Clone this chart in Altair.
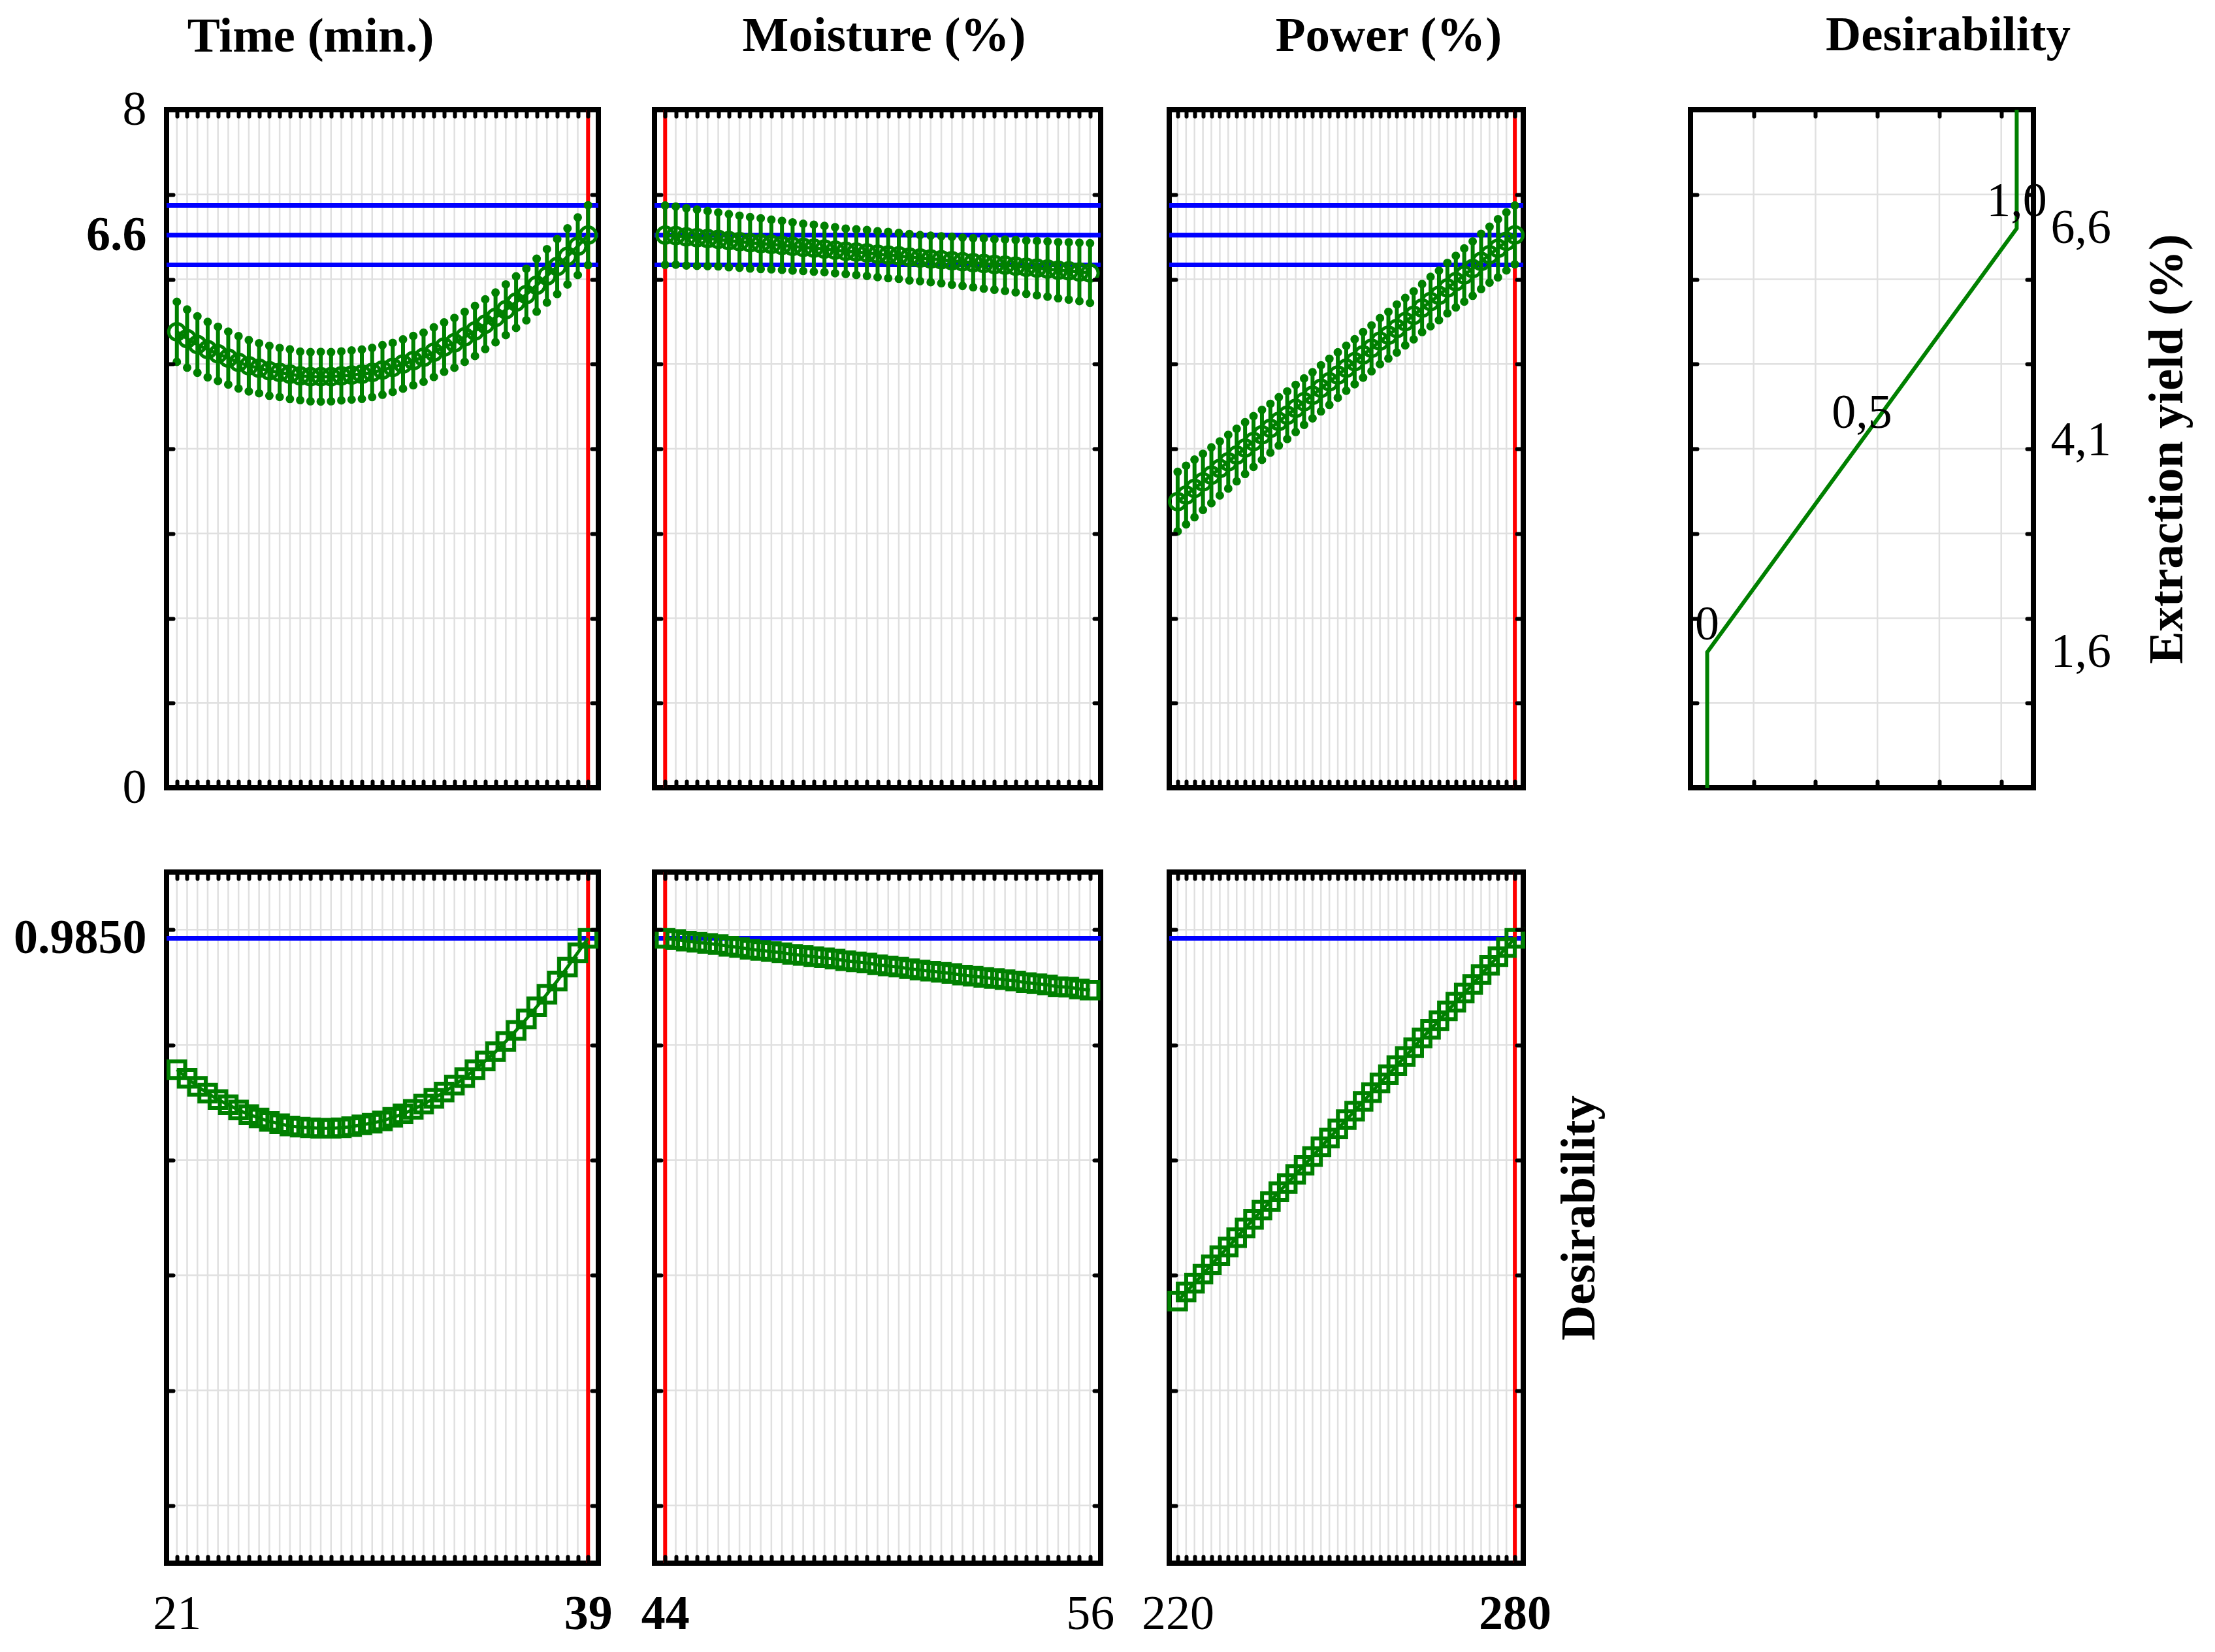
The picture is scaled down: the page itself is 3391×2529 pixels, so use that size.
import altair as alt
import pandas as pd

FONT = "Liberation Serif"
GREEN = "#008000"
BLUE = "#0000ff"
RED = "#ff0000"
GRIDC = "#e0e0e0"
T = 10          # inward tick length
XPAD = 42       # x label padding
XEXT = 120      # x label axis extent
YPAD = 31       # y label padding

# ---------------- factor levels ----------------
TIME_X = [21.0, 21.45, 21.9, 22.35, 22.8, 23.25, 23.7, 24.15, 24.6, 25.05, 25.5, 25.95, 26.4, 26.85,
          27.3, 27.75, 28.2, 28.65, 29.1, 29.55, 30.0, 30.45, 30.9, 31.35, 31.8, 32.25, 32.7, 33.15,
          33.6, 34.05, 34.5, 34.95, 35.4, 35.85, 36.3, 36.75, 37.2, 37.65, 38.1, 38.55, 39.0]
MOIST_X = [44.0, 44.3, 44.6, 44.9, 45.2, 45.5, 45.8, 46.1, 46.4, 46.7, 47.0, 47.3, 47.6, 47.9,
           48.2, 48.5, 48.8, 49.1, 49.4, 49.7, 50.0, 50.3, 50.6, 50.9, 51.2, 51.5, 51.8, 52.1,
           52.4, 52.7, 53.0, 53.3, 53.6, 53.9, 54.2, 54.5, 54.8, 55.1, 55.4, 55.7, 56.0]
POWER_X = [220.0, 221.5, 223.0, 224.5, 226.0, 227.5, 229.0, 230.5, 232.0, 233.5, 235.0, 236.5,
           238.0, 239.5, 241.0, 242.5, 244.0, 245.5, 247.0, 248.5, 250.0, 251.5, 253.0, 254.5,
           256.0, 257.5, 259.0, 260.5, 262.0, 263.5, 265.0, 266.5, 268.0, 269.5, 271.0, 272.5,
           274.0, 275.5, 277.0, 278.5, 280.0]

# ---------------- predicted extraction yield (%) and CI half widths ----------------
TIME_Y = [5.38, 5.30, 5.23, 5.17, 5.12, 5.07, 5.02, 4.98, 4.95, 4.92, 4.90, 4.88, 4.86, 4.85,
          4.85, 4.85, 4.86, 4.87, 4.88, 4.90, 4.93, 4.96, 5.00, 5.04, 5.08, 5.14, 5.20, 5.25,
          5.32, 5.39, 5.47, 5.55, 5.64, 5.73, 5.82, 5.93, 6.04, 6.15, 6.27, 6.39, 6.52]
TIME_HW = [0.354, 0.343, 0.333, 0.327, 0.320, 0.312, 0.309, 0.303, 0.295, 0.294, 0.289, 0.293,
           0.286, 0.290, 0.293, 0.290, 0.289, 0.290, 0.291, 0.290, 0.293, 0.289, 0.290, 0.291,
           0.290, 0.293, 0.291, 0.294, 0.295, 0.295, 0.293, 0.293, 0.299, 0.304, 0.304, 0.312,
           0.315, 0.324, 0.331, 0.340, 0.353]
MOIST_Y = [6.52, 6.515, 6.50, 6.49, 6.48, 6.47, 6.455, 6.443, 6.43, 6.42, 6.41, 6.40, 6.387, 6.376,
           6.367, 6.356, 6.343, 6.33, 6.32, 6.31, 6.296, 6.286, 6.276, 6.26, 6.25, 6.24, 6.23,
           6.218, 6.207, 6.195, 6.186, 6.174, 6.166, 6.155, 6.142, 6.131, 6.12, 6.107, 6.098,
           6.086, 6.073]
MOIST_HW = [0.350, 0.343, 0.338, 0.332, 0.325, 0.318, 0.313, 0.307, 0.303, 0.299, 0.293, 0.289,
            0.284, 0.278, 0.277, 0.273, 0.271, 0.268, 0.269, 0.271, 0.271, 0.273, 0.271, 0.274,
            0.272, 0.274, 0.277, 0.282, 0.285, 0.290, 0.296, 0.298, 0.303, 0.309, 0.314, 0.320,
            0.326, 0.331, 0.338, 0.344, 0.352]
POWER_Y = [3.377, 3.454, 3.532, 3.61, 3.688, 3.768, 3.847, 3.926, 4.008, 4.086, 4.164, 4.242,
           4.323, 4.396, 4.476, 4.556, 4.631, 4.713, 4.79, 4.87, 4.95, 5.027, 5.108, 5.185, 5.27,
           5.34, 5.419, 5.50, 5.574, 5.66, 5.737, 5.81, 5.896, 5.972, 6.05, 6.126, 6.21, 6.29,
           6.365, 6.447, 6.523]
POWER_HW = [0.351, 0.346, 0.340, 0.331, 0.329, 0.319, 0.317, 0.310, 0.305, 0.299, 0.295, 0.288,
            0.285, 0.281, 0.278, 0.274, 0.272, 0.272, 0.272, 0.268, 0.265, 0.265, 0.269, 0.270,
            0.272, 0.275, 0.283, 0.280, 0.283, 0.283, 0.292, 0.292, 0.297, 0.304, 0.314, 0.321,
            0.326, 0.330, 0.343, 0.343, 0.347]

# ---------------- overall desirability ----------------
TIME_D = [0.757, 0.742, 0.728, 0.716, 0.705, 0.696, 0.687, 0.679, 0.673, 0.667, 0.663, 0.659,
          0.657, 0.656, 0.655, 0.655, 0.656, 0.658, 0.661, 0.664, 0.668, 0.674, 0.680, 0.688,
          0.697, 0.707, 0.718, 0.730, 0.743, 0.757, 0.772, 0.788, 0.806, 0.825, 0.845, 0.866,
          0.888, 0.911, 0.935, 0.960, 0.985]
MOIST_D = [0.985, 0.983, 0.980, 0.978, 0.976, 0.974, 0.971, 0.969, 0.966, 0.964, 0.962, 0.960,
           0.957, 0.955, 0.953, 0.951, 0.949, 0.946, 0.944, 0.942, 0.939, 0.937, 0.935, 0.932,
           0.930, 0.928, 0.926, 0.924, 0.921, 0.919, 0.917, 0.915, 0.913, 0.911, 0.908, 0.906,
           0.904, 0.901, 0.900, 0.897, 0.895]
POWER_D = [0.355, 0.371, 0.386, 0.402, 0.418, 0.434, 0.449, 0.465, 0.482, 0.497, 0.513, 0.528,
           0.545, 0.559, 0.575, 0.591, 0.606, 0.623, 0.638, 0.654, 0.670, 0.685, 0.702, 0.717,
           0.734, 0.748, 0.764, 0.780, 0.795, 0.812, 0.827, 0.842, 0.859, 0.874, 0.890, 0.905,
           0.922, 0.938, 0.953, 0.969, 0.985]

# ---------------- reference values ----------------
YIELD_HI, YIELD_PRED, YIELD_LO = 6.87, 6.52, 6.17
DES_OPT = 0.985
TIME_OPT, MOIST_OPT, POWER_OPT = 39, 44, 280

YIELD_DOMAIN = [0, 8]
YIELD_TICKS = [1, 2, 3, 4, 5, 6, 7]
DES_DOMAIN = [-0.1, 1.1]
DES_TICKS = [0, 0.2, 0.4, 0.6, 0.8, 1.0]
TIME_DOMAIN = [20.55, 39.45]
MOIST_DOMAIN = [43.7, 56.3]
POWER_DOMAIN = [218.5, 281.5]

# desirability function panel
DFUN_DOMAIN = [-0.054, 1.054]
DFUN_GRID = [0.15, 0.35, 0.55, 0.75, 0.95]
DFUN_D = [0, 0, 1, 1]
DFUN_Y = [0, 1.6, 6.6, 8]
DFUN_LAB_D = [0, 0.5, 1.0]
DFUN_LAB_Y = [1.6, 4.1, 6.6]
DFUN_LAB_T = ["0", "0,5", "1,0"]
YIELD_LABELS = [1.6, 4.1, 6.6]


def tick_axis(orient, values, extent=0, title=None, title_pad=0):
    kw = dict(orient=orient, values=values, labels=False, ticks=True, tickSize=T, tickWidth=6,
              tickCap="round", tickColor="black", domain=False, grid=False, offset=-T,
              minExtent=extent, maxExtent=extent, zindex=1)
    if title:
        kw.update(title=title, titleFont=FONT, titleFontSize=75, titleFontWeight="bold",
                  titleColor="black", titlePadding=title_pad, titleAngle=270, titleBaseline="top")
    else:
        kw["title"] = None
    return alt.Axis(**kw)


def label_axis(orient, values, pad, extent, bold=False, visible=True, expr=None,
               title=None, title_pad=0):
    kw = dict(orient=orient, values=values, labels=True, ticks=False, tickSize=0, domain=False,
              grid=False, offset=0, labelFont=FONT, labelFontSize=74,
              labelFontWeight="bold" if bold else "normal", labelColor="black",
              labelOpacity=1 if visible else 0, labelPadding=pad, labelOverlap=False,
              labelFlush=False, labelAngle=0, labelLimit=0, minExtent=extent, maxExtent=extent,
              zindex=1)
    if expr:
        kw["labelExpr"] = expr
    if title:
        kw.update(title=title, titleFont=FONT, titleFontSize=75, titleFontWeight="bold",
                  titleColor="black", titlePadding=title_pad, titleAngle=270, titleBaseline="top")
    else:
        kw["title"] = None
    return alt.Axis(**kw)


def col_title(text, dx, dy):
    return alt.TitleParams(text=text, font=FONT, fontSize=75, fontWeight="bold", color="black",
                           anchor="middle", frame="group", baseline="alphabetic", offset=12,
                           dx=dx, dy=dy)


def vrules(values, xs, xaxis, ys, ydom, color, width):
    """vertical rules at x values spanning the whole y domain"""
    return alt.Chart(pd.DataFrame({"x": values})).mark_rule(color=color, strokeWidth=width).encode(
        x=alt.X("x:Q", scale=xs, axis=xaxis),
        y=alt.YDatum(ydom[0], scale=ys, axis=None),
        y2=alt.Y2Datum(ydom[1]))


def hrules(values, ys, yaxis, xs, xdom, color, width):
    """horizontal rules at y values spanning the whole x domain"""
    return alt.Chart(pd.DataFrame({"y": values})).mark_rule(color=color, strokeWidth=width).encode(
        y=alt.Y("y:Q", scale=ys, axis=yaxis),
        x=alt.XDatum(xdom[0], scale=xs, axis=None),
        x2=alt.X2Datum(xdom[1]))


def factor_panel(x, vals, xdom, opt, lab_reg, lab_bold, width, left_ext, top, hw=None,
                 first=False, title=None, dx=0, dy=0, right_title=None):
    xs = alt.Scale(domain=xdom, nice=False, zero=False)
    if top:
        ydom = YIELD_DOMAIN
        yticks = YIELD_TICKS
        blues = [YIELD_HI, YIELD_PRED, YIELD_LO]
        height = 1038
    else:
        ydom = DES_DOMAIN
        yticks = DES_TICKS
        blues = [DES_OPT]
        height = 1058
    ys = alt.Scale(domain=ydom, nice=False, zero=False)

    vgrid = vrules(x, xs, tick_axis("bottom", x), ys, ydom, GRIDC, 2.5)
    hgrid = hrules(yticks, ys, tick_axis("left", yticks, extent=(0 if first else left_ext)),
                   xs, xdom, GRIDC, 2.5)
    if right_title:
        raxis = tick_axis("right", yticks, extent=T, title=right_title, title_pad=49)
    else:
        raxis = tick_axis("right", yticks)
    blue = hrules(blues, ys, raxis, xs, xdom, BLUE, 7)
    red = vrules([opt], xs, tick_axis("top", x), ys, ydom, RED, 6)

    ax_reg = label_axis("bottom", [lab_reg], XPAD, XEXT, bold=False, visible=not top)
    ax_bold = label_axis("bottom", [lab_bold], XPAD, XEXT, bold=True, visible=not top)

    layers = [vgrid, hgrid, blue, red]
    if top:
        df = pd.DataFrame({"x": x, "y": vals, "hw": hw})
        base = alt.Chart(df).transform_calculate(lo="datum.y - datum.hw", hi="datum.y + datum.hw")
        bars = base.mark_rule(color=GREEN, strokeWidth=6).encode(
            x=alt.X("x:Q", scale=xs, axis=ax_bold),
            y=alt.Y("lo:Q", scale=ys, axis=None), y2="hi:Q")
        caps = base.transform_fold(["lo", "hi"], as_=["k", "v"]).mark_point(
            shape="circle", filled=True, size=170, color=GREEN, opacity=1).encode(
            x=alt.X("x:Q", scale=xs, axis=ax_reg),
            y=alt.Y("v:Q", scale=ys, axis=None))
        if first:
            ly_bold = label_axis("left", [YIELD_PRED], YPAD, 250, bold=True, expr="'6.6'")
            ly_reg = label_axis("left", [0, 8], YPAD, 250)
        else:
            ly_bold = None
            ly_reg = None
        line = base.mark_line(color=GREEN, strokeWidth=5).encode(
            x=alt.X("x:Q", scale=xs, axis=None),
            y=alt.Y("y:Q", scale=ys, axis=ly_bold))
        circ = base.mark_point(shape="circle", filled=False, size=620, strokeWidth=5,
                               color=GREEN, opacity=1).encode(
            x=alt.X("x:Q", scale=xs, axis=None),
            y=alt.Y("y:Q", scale=ys, axis=ly_reg))
        layers += [bars, caps, line, circ]
    else:
        base = alt.Chart(pd.DataFrame({"x": x, "y": vals}))
        ly = label_axis("left", [DES_OPT], YPAD, 250, bold=True, expr="'0.9850'") if first else None
        line = base.mark_line(color=GREEN, strokeWidth=5).encode(
            x=alt.X("x:Q", scale=xs, axis=ax_reg),
            y=alt.Y("y:Q", scale=ys, axis=ly))
        sq = base.mark_point(shape="square", filled=False, size=650, strokeWidth=6,
                             color=GREEN, opacity=1).encode(
            x=alt.X("x:Q", scale=xs, axis=ax_bold),
            y=alt.Y("y:Q", scale=ys, axis=None))
        layers += [line, sq]

    props = dict(width=width, height=height)
    if title:
        props["title"] = col_title(title, dx, dy)
    return alt.layer(*layers).resolve_axis(x="independent", y="independent").properties(**props)


def dfun_panel(width, left_ext):
    xs = alt.Scale(domain=DFUN_DOMAIN, nice=False, zero=False)
    ys = alt.Scale(domain=YIELD_DOMAIN, nice=False, zero=False)
    vgrid = vrules(DFUN_GRID, xs, tick_axis("bottom", DFUN_GRID), ys, YIELD_DOMAIN, GRIDC, 2.5)
    hgrid = hrules(YIELD_TICKS, ys, tick_axis("left", YIELD_TICKS, extent=left_ext),
                   xs, DFUN_DOMAIN, GRIDC, 2.5)
    curve = alt.Chart(pd.DataFrame({"d": DFUN_D, "y": DFUN_Y, "i": [0, 1, 2, 3]})).mark_line(
        color=GREEN, strokeWidth=6).encode(
        x=alt.X("d:Q", scale=xs, axis=tick_axis("top", DFUN_GRID)),
        y=alt.Y("y:Q", scale=ys, axis=tick_axis("right", YIELD_TICKS)),
        order="i:Q")
    raxis = label_axis("right", YIELD_LABELS, 26, 122,
                       expr="replace(format(datum.value, '.1f'), '.', ',')",
                       title="Extraction yield (%)", title_pad=46)
    text = alt.Chart(pd.DataFrame({"d": DFUN_LAB_D, "y": DFUN_LAB_Y, "t": DFUN_LAB_T})).mark_text(
        font=FONT, fontSize=74, color="black", dy=-41, align="center", baseline="middle").encode(
        x=alt.X("d:Q", scale=xs, axis=None),
        y=alt.Y("y:Q", scale=ys, axis=raxis),
        text="t:N")
    return alt.layer(vgrid, hgrid, curve, text).resolve_axis(
        x="independent", y="independent").properties(
        width=width, height=1038, title=col_title("Desirability", 132, 8))


W1, W2, W3, WD = 661, 683, 542, 525
E2, E3, ED = 66, 86, 135

panels = [
    factor_panel(TIME_X, TIME_Y, TIME_DOMAIN, TIME_OPT, 21, 39, W1, 0, True, TIME_HW,
                 first=True, title="Time (min.)", dx=-110, dy=35),
    factor_panel(MOIST_X, MOIST_Y, MOIST_DOMAIN, MOIST_OPT, 56, 44, W2, E2, True, MOIST_HW,
                 title="Moisture (%)", dx=10),
    factor_panel(POWER_X, POWER_Y, POWER_DOMAIN, POWER_OPT, 220, 280, W3, E3, True, POWER_HW,
                 title="Power (%)", dx=65),
    dfun_panel(WD, ED),
    factor_panel(TIME_X, TIME_D, TIME_DOMAIN, TIME_OPT, 21, 39, W1, 0, False, first=True),
    factor_panel(MOIST_X, MOIST_D, MOIST_DOMAIN, MOIST_OPT, 56, 44, W2, E2, False),
    factor_panel(POWER_X, POWER_D, POWER_DOMAIN, POWER_OPT, 220, 280, W3, E3, False,
                 right_title="Desirability"),
]

chart = alt.concat(*panels, columns=4, spacing=alt.RowColnumber(row=-2, column=0)).properties(
    align="each",
    padding={"left": 1, "top": 13, "right": 5, "bottom": 5},
    background="white",
).configure_view(stroke="black", strokeWidth=8)

chart.save("out.html", embed_options={"renderer": "svg", "actions": False})
